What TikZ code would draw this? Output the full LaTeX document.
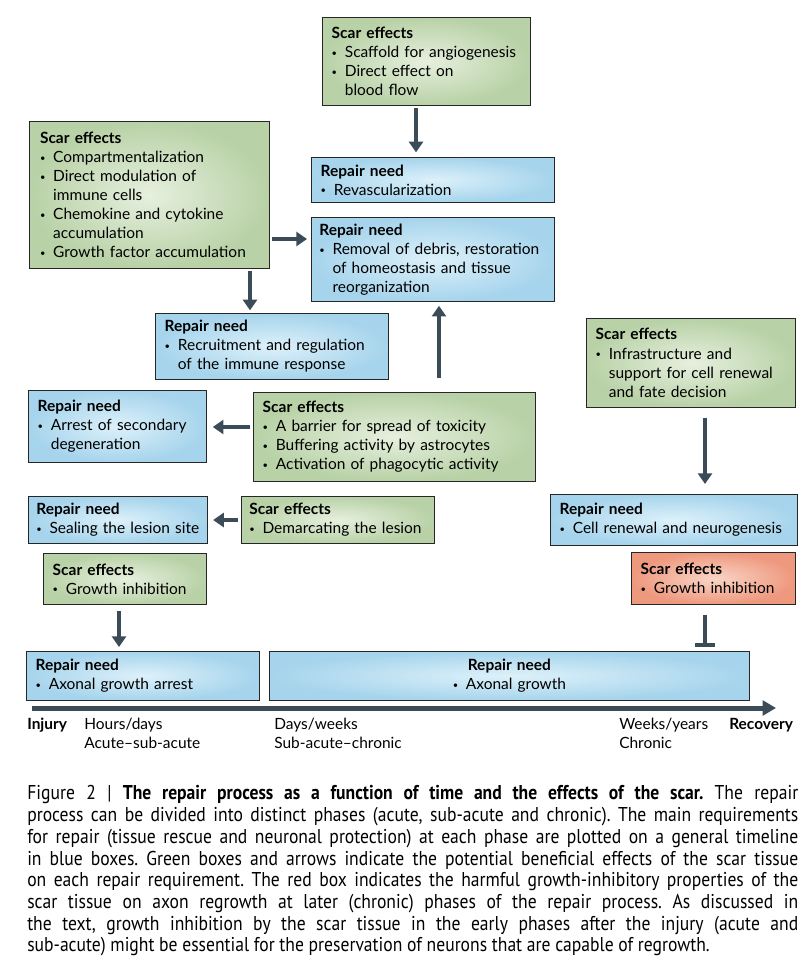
\documentclass[tikz,border=0pt]{standalone}
\usepackage{fontspec}
\setmainfont{Lato}
\newfontfamily\capfont[FakeStretch=0.88]{PT Sans}
\usetikzlibrary{arrows.meta}

\definecolor{greenedge}{HTML}{B8D1A6}
\definecolor{greenmid}{HTML}{E6F0DE}
\definecolor{blueedge}{HTML}{A6D4EC}
\definecolor{bluemid}{HTML}{DDF1FA}
\definecolor{rededge}{HTML}{EE987E}
\definecolor{redmid}{HTML}{F9D5C6}
\definecolor{arrowgrey}{HTML}{3B4C58}

\hyphenpenalty=10000
\exhyphenpenalty=10000
\newcommand\bul{\makebox[0.85em][l]{\raisebox{0.15ex}{\scriptsize\textbullet}}}
\newcommand\ind{\hspace*{0.85em}}
\newcommand\capline[1]{\hbox to 578.25pt{#1}}

\tikzset{
  box/.style={draw=black!85, line width=0.6pt, anchor=north west,
    inner xsep=7pt, inner ysep=2pt, align=left,
    font=\fontsize{11.6}{14.3}\selectfont},
  scarbox/.style={box, inner color=greenmid, outer color=greenedge},
  needbox/.style={box, inner color=bluemid, outer color=blueedge},
  harmbox/.style={box, inner color=redmid, outer color=rededge},
  arr/.style={arrowgrey, line width=3pt, -{Triangle[width=10.5pt,length=8pt]}},
  blockarr/.style={arrowgrey, line width=3pt, -{Bar[width=15pt,line width=3pt]}},
  timeline/.style={arrowgrey, line width=3.75pt, -{Triangle[width=11pt,length=10pt]}},
  phase/.style={anchor=north west, inner sep=0pt, align=left,
    font=\fontsize{11.6}{14.3}\selectfont}
}

\begin{document}
\begin{tikzpicture}[x=1pt,y=-1pt]
  \useasboundingbox (0,0) rectangle (602.25,722.25);

  % scar effects and repair needs
  \node[scarbox, text width=142pt, minimum height=66pt] (angio) at (241.5,12.75)
    {\textbf{Scar effects}\\\bul Scaffold for angiogenesis\\\bul Direct effect on\\\ind blood flow};
  \node[needbox, text width=168.25pt, minimum height=33.75pt] (revasc) at (233.25,117.75)
    {\textbf{Repair need}\\\bul Revascularization};
  \node[needbox, text width=170.25pt, minimum height=63pt, inner xsep=6pt] (debris) at (233.25,162.75)
    {\textbf{Repair need}\\\bul Removal of debris, restoration\\\ind of homeostasis and tissue\\\ind reorganization};
  \node[scarbox, text width=164pt, minimum height=110.25pt, inner xsep=8pt] (compart) at (21.75,90.75)
    {\textbf{Scar effects}\\\bul Compartmentalization\\\bul Direct modulation of\\\ind immune cells\\\bul Chemokine and cytokine\\\ind accumulation\\\bul Growth factor accumulation};
  \node[needbox, text width=160.75pt, minimum height=49.5pt] (immune) at (116.25,234.75)
    {\textbf{Repair need}\\\bul Recruitment and regulation\\\ind of the immune response};
  \node[needbox, text width=119.5pt, minimum height=54pt] (arrest) at (21,292.5)
    {\textbf{Repair need}\\\bul Arrest of secondary\\\ind degeneration};
  \node[scarbox, text width=197.5pt, minimum height=66.75pt] (barrier) at (189.75,294)
    {\textbf{Scar effects}\\\bul A barrier for spread of toxicity\\\bul Buffering activity by astrocytes\\\bul Activation of phagocytic activity};
  \node[scarbox, text width=142.75pt, minimum height=66.75pt] (infra) at (439.5,238.5)
    {\textbf{Scar effects}\\\bul Infrastructure and\\\ind support for cell renewal\\\ind and fate decision};
  \node[needbox, text width=122.25pt, minimum height=35.25pt, inner xsep=6pt] (seal) at (21,372)
    {\textbf{Repair need}\\\bul Sealing the lesion site};
  \node[scarbox, text width=132.75pt, minimum height=35.25pt, inner xsep=6pt] (demarc) at (180.75,372)
    {\textbf{Scar effects}\\\bul Demarcating the lesion};
  \node[needbox, text width=171.25pt, minimum height=38.25pt] (renew) at (412.5,370.5)
    {\textbf{Repair need}\\\bul Cell renewal and neurogenesis};
  \node[scarbox, text width=108.25pt, minimum height=38.25pt] (inhibA) at (32.25,414.75)
    {\textbf{Scar effects}\\\bul Growth inhibition};
  \node[harmbox, text width=109pt, minimum height=39pt] (inhibB) at (473.25,414)
    {\textbf{Scar effects}\\\bul Growth inhibition};
  \node[needbox, text width=160.75pt, minimum height=36.75pt] (axarrest) at (19.5,488.25)
    {\textbf{Repair need}\\\bul Axonal growth arrest};
  \node[needbox, text width=346pt, minimum height=36.75pt, align=center] (axgrowth) at (201.75,488.25)
    {\textbf{Repair need}\\\bul Axonal growth};

  % connectors
  \coordinate (c1) at (312,0);
  \coordinate (c2) at (0,179.25);
  \coordinate (c3) at (187.5,0);
  \coordinate (c4) at (329.25,0);
  \coordinate (c5) at (0,320.25);
  \coordinate (c6) at (0,390);
  \coordinate (c7) at (89.25,0);
  \coordinate (c8) at (528.75,0);
  \draw[arr, shorten <=2pt, shorten >=3.5pt] (angio.south -| c1) -- (revasc.north -| c1);
  \draw[arr, shorten <=2pt, shorten >=3pt] (compart.east |- c2) -- (debris.west |- c2);
  \draw[arr, shorten <=1.5pt, shorten >=2pt] (compart.south -| c3) -- (immune.north -| c3);
  \draw[arr, shorten <=10.5pt, shorten >=3pt] (barrier.north -| c4) -- (debris.south -| c4);
  \draw[arr, shorten <=2pt, shorten >=4.5pt] (barrier.west |- c5) -- (arrest.east |- c5);
  \draw[arr, shorten <=2pt, shorten >=4pt] (demarc.west |- c6) -- (seal.east |- c6);
  \draw[arr, shorten <=4.5pt, shorten >=3pt] (inhibA.south -| c7) -- (axarrest.north -| c7);
  \draw[arr, shorten <=7.5pt, shorten >=7.5pt] (infra.south -| c8) -- (renew.north -| c8);
  \draw[blockarr, shorten <=8pt, shorten >=3pt] (inhibB.south -| c8) -- (axgrowth.north -| c8);

  % timeline
  \coordinate (t0) at (24,531);
  \coordinate (t1) at (582,531);
  \draw[timeline] (t0) -- (t1);
  \node[phase] (injury) at (20.25,538.5) {\textbf{Injury}};
  \node[phase] (acute) at (63,538.5) {Hours/days\\Acute--sub-acute};
  \node[phase] (subacute) at (205.5,538.5) {Days/weeks\\Sub-acute--chronic};
  \node[phase] (chronic) at (464.25,538.5) {Weeks/years\\Chronic};
  \node[phase] (recovery) at (546.75,538.5) {\textbf{Recovery}};

  % caption
  \node[anchor=north west, inner sep=0pt,
    font=\capfont\fontsize{15}{16.3}\selectfont] (caption) at (20.25,589)
    {\vbox{\frenchspacing\spaceskip=0pt\xspaceskip=0pt
     \capline{Figure 2 | \textbf{The repair process as a function of time and the effects of the scar.} The repair}
     \capline{process can be divided into distinct phases (acute, sub-acute and chronic). The main requirements}
     \capline{for repair (tissue rescue and neuronal protection) at each phase are plotted on a general timeline}
     \capline{in blue boxes. Green boxes and arrows indicate the potential beneficial effects of the scar tissue}
     \capline{on each repair requirement. The red box indicates the harmful growth-inhibitory properties of the}
     \capline{scar tissue on axon regrowth at later (chronic) phases of the repair process. As discussed in}
     \capline{the text, growth inhibition by the scar tissue in the early phases after the injury (acute and}
     \hbox{sub-acute) might be essential for the preservation of neurons that are capable of regrowth.}}};
\end{tikzpicture}
\end{document}
